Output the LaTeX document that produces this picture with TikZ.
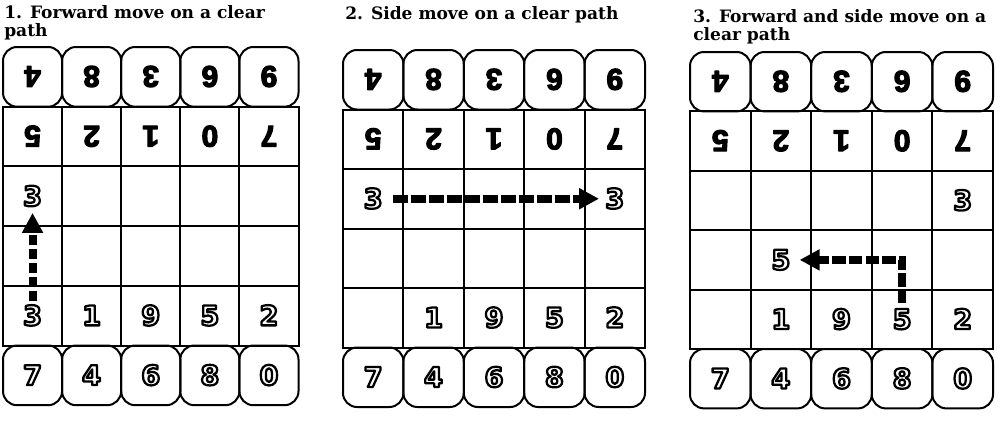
\documentclass[tikz,border=0pt]{standalone}
\usepackage{fontspec}
\setmainfont{DejaVu Serif}
\newfontfamily\digfont{DejaVu Sans}
\newfontfamily\blkfont{Liberation Sans}
\usetikzlibrary{arrows.meta}

% text render modes: stroked outline, and fill+stroke (heavier)
\newcommand\outlinetext[1]{\special{pdf:literal direct 1 Tr 1.7 w 1 j}#1\special{pdf:literal direct 0 Tr}}
\newcommand\heavytext[1]{\special{pdf:literal direct 2 Tr 0.9 w 1 j}#1\special{pdf:literal direct 0 Tr}}

\tikzset{
  cellline/.style={line width=1.5pt},
  keycap/.style={draw, line width=1.5pt, rounded corners=10.5pt},
  titletext/.style={inner sep=0pt, anchor=base west, align=left,
    font=\bfseries\fontsize{12.8}{13.2}\selectfont},
  blackdig/.style={inner sep=0pt, rotate=180, text height=16pt, text depth=0pt,
    font=\blkfont\bfseries\fontsize{22.5}{22.5}\selectfont},
  outdig/.style={inner sep=0pt, text height=14.6pt, text depth=0pt,
    font=\digfont\bfseries\fontsize{20.5}{20.5}\selectfont},
  mvarrow/.style={line width=6pt, -{Triangle[length=15pt,width=15pt]}},
}

% outlined digit: name, x, y, digit
\newcommand\outdigit[4]{%
  \node[outdig] (#1) at ({#2},{#3}) {\outlinetext{#4}};%
}

% board: x0, y0, cell width, row height, prefix
\newcommand\board[5]{%
  \begin{scope}[shift={(#1,#2)}]
    \foreach \d [count=\i from 0] in {4,8,3,6,9} {%
      \draw[keycap] ({\i*#3},0) rectangle ({(\i+1)*#3},#4);
      \node[blackdig] (#5t\i) at ({(\i+0.5)*#3},{0.5*#4}) {\heavytext{\d}};
    }
    \foreach \d [count=\i from 0] in {5,2,1,0,7} {%
      \node[blackdig] (#5u\i) at ({(\i+0.5)*#3},{1.5*#4}) {\heavytext{\d}};
    }
    \draw[cellline] (0,#4) rectangle ({5*#3},{5*#4});
    \foreach \j in {2,3,4} {%
      \draw[cellline] (0,{\j*#4}) -- ({5*#3},{\j*#4});
    }
    \foreach \i in {1,...,4} {%
      \draw[cellline] ({\i*#3},#4) -- ({\i*#3},{5*#4});
    }
    \foreach \d [count=\i from 0] in {7,4,6,8,0} {%
      \draw[keycap] ({\i*#3},{5*#4}) rectangle ({(\i+1)*#3},{6*#4});
      \outdigit{#5b\i}{(\i+0.5)*#3}{5.5*#4}{\d}
    }
    \foreach \d [count=\i from 1] in {1,9,5,2} {%
      \outdigit{#5r\i}{(\i+0.5)*#3}{4.5*#4}{\d}
    }
  \end{scope}
}

\begin{document}
\begin{tikzpicture}[x=0.75pt,y=-0.75pt]
  \fill[white] (0,0) rectangle (1001,425);
  \useasboundingbox (0,0) rectangle (1001,425);

  % titles (base anchor = baseline of the last line)
  \node[titletext] (t1) at (4,36.5) {1. Forward move on a clear\\path};
  \node[titletext] (t2) at (345,19.5) {2. Side move on a clear path};
  \node[titletext] (t3) at (693,40.5) {3. Forward and side move on a\\clear path};

  % boards
  \board{3}{47}{59.1}{59.7}{A}
  \board{343}{50}{60.4}{59.5}{B}
  \board{690}{52}{60.6}{59.4}{C}

  % board 1 extra digits
  \outdigit{Afrom}{3+0.5*59.1}{47+4.5*59.7}{3}
  \outdigit{Ato}{3+0.5*59.1}{47+2.5*59.7}{3}
  \draw[mvarrow, dash pattern=on 7.5pt off 3pt, shorten <=3.4pt, shorten >=5pt]
    (Afrom.north) -- (Ato.south);

  % board 2 extra digits
  \outdigit{Bfrom}{343+0.5*60.4}{50+2.5*59.5}{3}
  \outdigit{Bto}{343+4.5*60.4}{50+2.5*59.5}{3}
  \draw[mvarrow, dash pattern=on 11pt off 2.5pt, shorten <=7.5pt, shorten >=4.5pt]
    (Bfrom.east) -- (Bto.west);

  % board 3 extra digits
  \outdigit{Cthree}{690+4.5*60.6}{52+2.5*59.4}{3}
  \outdigit{Cto}{690+1.5*60.6}{52+3.5*59.4}{5}
  \draw[mvarrow, dash pattern=on 10pt off 2.5pt, shorten <=4.5pt, shorten >=6.75pt]
    (Cr3.north) |- (Cto.east);
\end{tikzpicture}
\end{document}
